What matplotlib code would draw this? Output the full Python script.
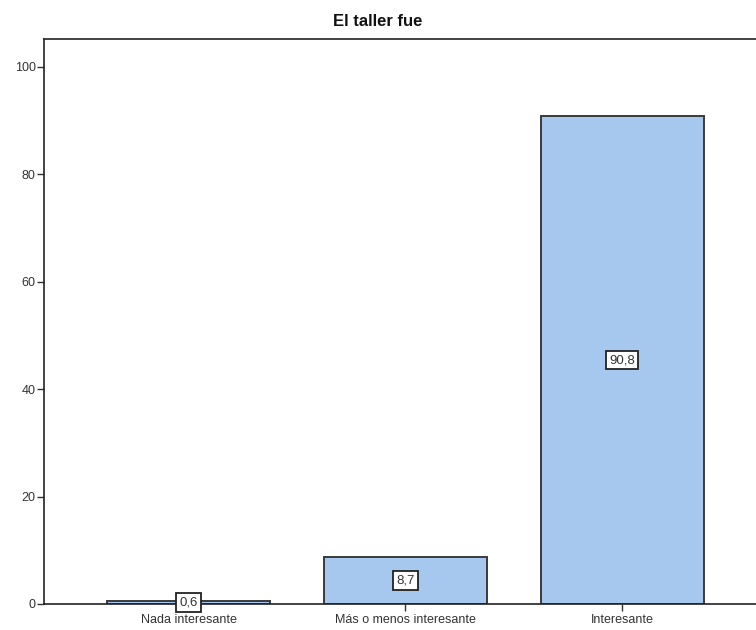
import numpy as np
import matplotlib.pyplot as plt

plt.rcParams['font.family'] = ['Liberation Sans', 'DejaVu Sans']

# Porcentajes por categoría
categorias = ['Nada interesante', 'Más o menos interesante', 'Interesante']
porcentajes = [0.6, 8.7, 90.8]

fig = plt.figure(figsize=(7.56, 6.3), dpi=100)
ax = fig.add_axes([44 / 756, 1 - 604 / 630, (756 - 44) / 756, (604 - 39) / 630])

x = np.arange(len(categorias))
ax.bar(x, porcentajes, width=0.75, color='#a6c8ee', edgecolor='#3a3a3a', linewidth=1.4)

# Etiquetas con el valor en el centro de cada barra
for xi, v in zip(x, porcentajes):
    ax.text(xi, v / 2, f'{v:.1f}'.replace('.', ','), ha='center', va='center',
            fontsize=9.5, color='#333333',
            bbox=dict(boxstyle='square,pad=0.25', fc='white', ec='#222222', lw=1.3))

ax.set_xlim(-0.667, 2.617)
ax.set_ylim(0, 105.2)
ax.set_yticks(range(0, 101, 20))
ax.set_xticks(x)
ax.set_xticklabels(categorias)
ax.tick_params(axis='both', labelsize=9, colors='#333333', length=5, width=1)
ax.tick_params(axis='y', pad=1)
ax.tick_params(axis='x', pad=2)

ax.spines['right'].set_visible(False)
for s in ['left', 'top', 'bottom']:
    ax.spines[s].set_color('#222222')
    ax.spines[s].set_linewidth(1.2)

fig.text(378 / 756, 1 - 22 / 630, 'El taller fue', ha='center', va='center',
         fontsize=12, fontweight='bold', color='#111111')

fig.savefig('out.png', dpi=100, facecolor='white')
